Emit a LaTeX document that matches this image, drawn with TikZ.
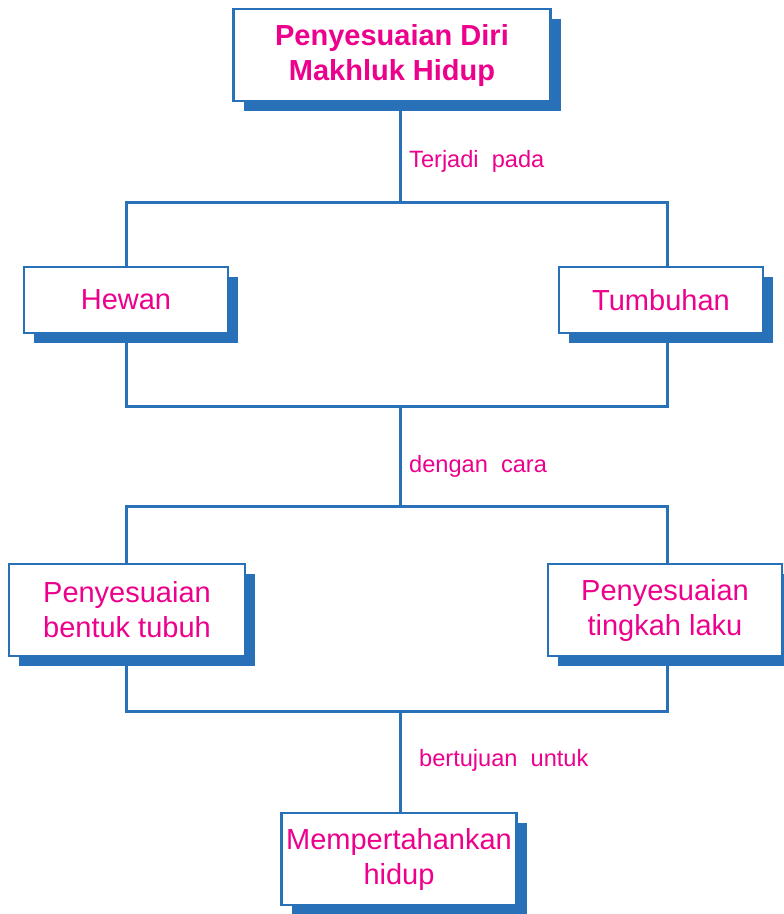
\documentclass[tikz,border=0pt]{standalone}
\usepackage{fontspec}
\setmainfont{Liberation Sans}
\usetikzlibrary{shadows,backgrounds}
\definecolor{garisbiru}{RGB}{40,112,184}
\definecolor{merahmuda}{RGB}{236,0,140}

\begin{document}
\begin{tikzpicture}[x=1pt, y=-1pt,
    kotak/.style={draw=garisbiru, line width=2.5pt, fill=white, text=merahmuda,
        align=center, inner sep=0pt, font=\fontsize{29}{35}\selectfont,
        general shadow={fill=garisbiru, shadow xshift=10pt, shadow yshift=-10pt}},
    ket/.style={text=merahmuda, anchor=west, inner sep=0pt, font=\fontsize{23.6}{28}\selectfont},
    garis/.style={draw=garisbiru, line width=3pt}]
    \useasboundingbox (0,0) rectangle (784,914);

    % kotak
    \node[kotak, font=\bfseries\fontsize{29}{35}\selectfont, minimum width=317pt, minimum height=92pt]
        (judul) at (392,55) {Penyesuaian Diri\\Makhluk Hidup};
    \node[kotak, minimum width=204pt, minimum height=66pt] (hewan) at (126,300) {Hewan};
    \node[kotak, minimum width=204pt, minimum height=66pt] (tumbuhan) at (661,300) {Tumbuhan};
    \node[kotak, minimum width=236pt, minimum height=92pt] (bentuk) at (127,610) {Penyesuaian\\bentuk tubuh};
    \node[kotak, minimum width=234pt, minimum height=92pt] (tingkah) at (665,610) {Penyesuaian\\tingkah laku};
    \node[kotak, minimum width=235pt, minimum height=92pt] (tujuan) at (399,859) {Mempertahankan\\hidup};

    % titik cabang
    \coordinate (kiri) at (126,0);
    \coordinate (kanan) at (667,0);
    \coordinate (cabang1) at (400,202);
    \coordinate (gabung1) at (400,406);
    \coordinate (cabang2) at (400,506);
    \coordinate (gabung2) at (400,711);

    % keterangan
    \node[ket] (terjadi) at (409,161) {Terjadi\ \ pada};
    \node[ket] (dengan) at (409,466) {dengan\ \ cara};
    \node[ket] (bertujuan) at (419,760) {bertujuan\ \ untuk};

    \begin{scope}[on background layer]
        % judul ke hewan dan tumbuhan
        \draw[garis] (judul.south -| cabang1) -- (cabang1);
        \draw[garis] (hewan.north) |- (cabang1);
        \draw[garis] (tumbuhan.north -| kanan) |- (cabang1);

        % hewan dan tumbuhan ke cara
        \draw[garis] (hewan.south) |- (gabung1);
        \draw[garis] (tumbuhan.south -| kanan) |- (gabung1);
        \draw[garis] (gabung1) -- (cabang2);
        \draw[garis] (bentuk.north -| kiri) |- (cabang2);
        \draw[garis] (tingkah.north -| kanan) |- (cabang2);

        % cara ke tujuan
        \draw[garis] (bentuk.south -| kiri) |- (gabung2);
        \draw[garis] (tingkah.south -| kanan) |- (gabung2);
        \draw[garis] (gabung2) -- (gabung2 |- tujuan.north);
    \end{scope}
\end{tikzpicture}
\end{document}
